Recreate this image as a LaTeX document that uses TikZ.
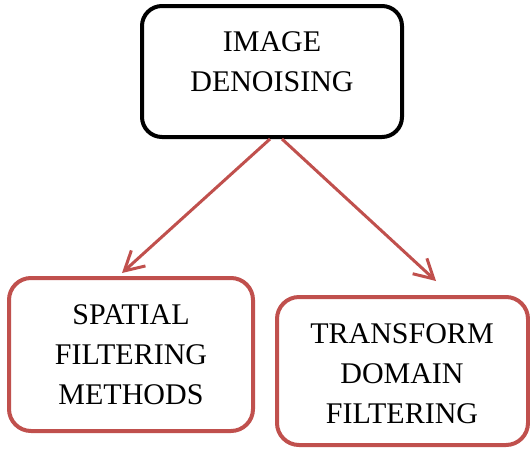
\documentclass[tikz,border=0pt]{standalone}
\usepackage{fontspec}
\setmainfont{Liberation Serif}
\usetikzlibrary{arrows.meta}
\definecolor{boxred}{HTML}{C0504D}
\tikzset{
  box/.style={draw, rounded corners=22pt, line width=4pt, minimum width=#1},
  topbox/.style={box=260pt, draw=black, minimum height=131pt, rounded corners=20pt},
  redbox/.style={box=244pt, draw=boxred},
  lbl/.style={align=center, font=\fontsize{30}{40}\selectfont, inner sep=0pt},
  arr/.style={draw=boxred, line width=3pt, -{Straight Barb[length=19pt,width=21pt,line width=3pt]}}
}
\begin{document}
\begin{tikzpicture}[x=1pt,y=-1pt]
\useasboundingbox (0,0) rectangle (530,448);
\node[topbox, inner sep=0pt] (top) at (272,71.5) {};
\node[lbl] (toptext) at (272,62) {IMAGE\\DENOISING};
\node[redbox, minimum height=153pt, inner sep=0pt] (left) at (131,354.5) {};
\node[lbl] (lefttext) at (131,355) {SPATIAL\\FILTERING\\METHODS};
\node[redbox, minimum width=251pt, minimum height=148pt, inner sep=0pt] (right) at (402.5,371) {};
\node[lbl] (righttext) at (402,374) {TRANSFORM\\DOMAIN\\FILTERING};
\draw[arr] ([xshift=-2pt]top.south) -- ([xshift=-9pt,yshift=3pt]left.north);
\draw[arr] ([xshift=10pt]top.south) -- ([xshift=33.5pt,yshift=14pt]right.north);
\end{tikzpicture}
\end{document}
